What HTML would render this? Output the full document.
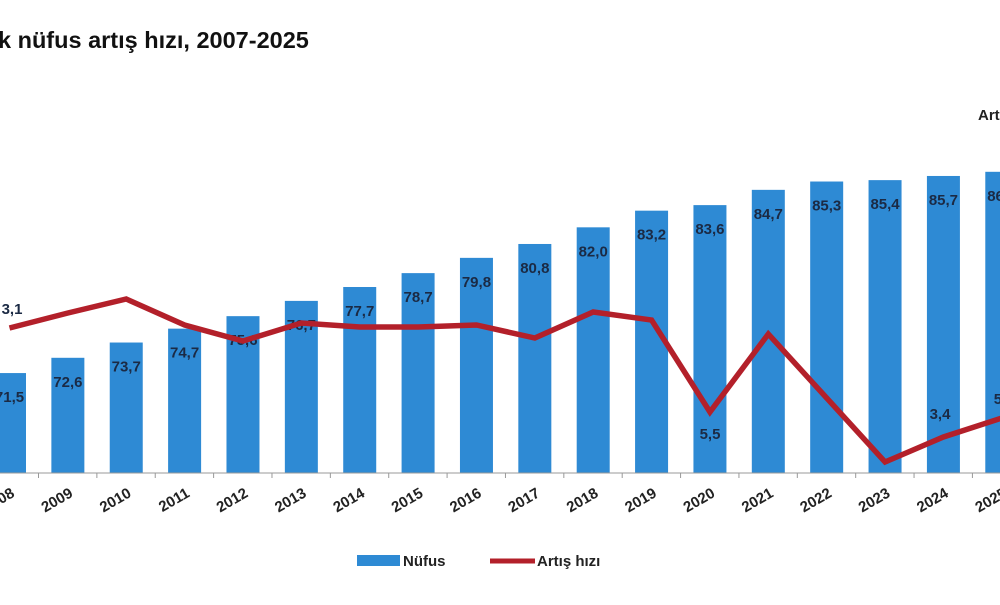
<!DOCTYPE html>
<html><head><meta charset="utf-8"><style>
body{margin:0;background:#fff;width:1000px;height:600px;overflow:hidden;font-family:"Liberation Sans",Arial,sans-serif}
</style></head><body>
<svg width="1000" height="600" xmlns="http://www.w3.org/2000/svg" font-family="Liberation Sans, Arial, sans-serif">
<text x="-2" y="48" font-size="23.5" font-weight="bold" fill="#111">k nüfus artış hızı, 2007-2025</text>
<text x="978" y="120" font-size="15" font-weight="bold" fill="#222">Artış</text>
<g id="bars" fill="#2e8ad4"></g>
<line x1="0" y1="473" x2="1000" y2="473" stroke="#999" stroke-width="1"/>
<g id="ticks" stroke="#999"></g>
<g id="blabels" font-size="15" font-weight="bold" fill="#1b2a44" text-anchor="middle"></g>
<polyline id="line" fill="none" stroke="#b3202a" stroke-width="5.5" stroke-linejoin="miter"/>
<g font-size="15" font-weight="bold" fill="#1b2a44" text-anchor="middle">
<text x="12" y="314">3,1</text><text x="710" y="439">5,5</text><text x="940" y="419">3,4</text><text x="1000" y="404">5,</text>
</g>
<g id="years" font-size="15" font-weight="bold" fill="#222"></g>
<rect x="357" y="555" width="43" height="11" fill="#2e8ad4"/>
<text x="403" y="566" font-size="15" font-weight="bold" fill="#222">Nüfus</text>
<line x1="490" y1="561" x2="535" y2="561" stroke="#b3202a" stroke-width="5"/>
<text x="537" y="566" font-size="15" font-weight="bold" fill="#222">Artış hızı</text>
</svg>
<script>
const v=[71.5,72.6,73.7,74.7,75.6,76.7,77.7,78.7,79.8,80.8,82.0,83.2,83.6,84.7,85.3,85.4,85.7,86.0];
const ly=[328,313,299,325,341,323,327,327,325,338,312,320,412,334,398,462,437,418];
const ns="http://www.w3.org/2000/svg";
const g=id=>document.getElementById(id);
function el(t,a,p,txt){const e=document.createElementNS(ns,t);for(const k in a)e.setAttribute(k,a[k]);if(txt)e.textContent=txt;g(p).appendChild(e);}
let pts=[];
v.forEach((val,i)=>{const c=9.5+i*58.37;const top=473-(val-64.3)*13.88;
el('rect',{x:c-16.5,y:top,width:33,height:473-top},'bars');
el('line',{x1:c+29,y1:473,x2:c+29,y2:478},'ticks');
el('text',{x:c,y:top+29},'blabels',val.toFixed(1).replace('.',','));
el('text',{x:c+6,y:496,transform:`rotate(-30 ${c+6} 496)`,'text-anchor':'end'},'years',String(2008+i));
pts.push(c+','+ly[i]);});
g('line').setAttribute('points',pts.join(' '));
</script>
</body></html>
